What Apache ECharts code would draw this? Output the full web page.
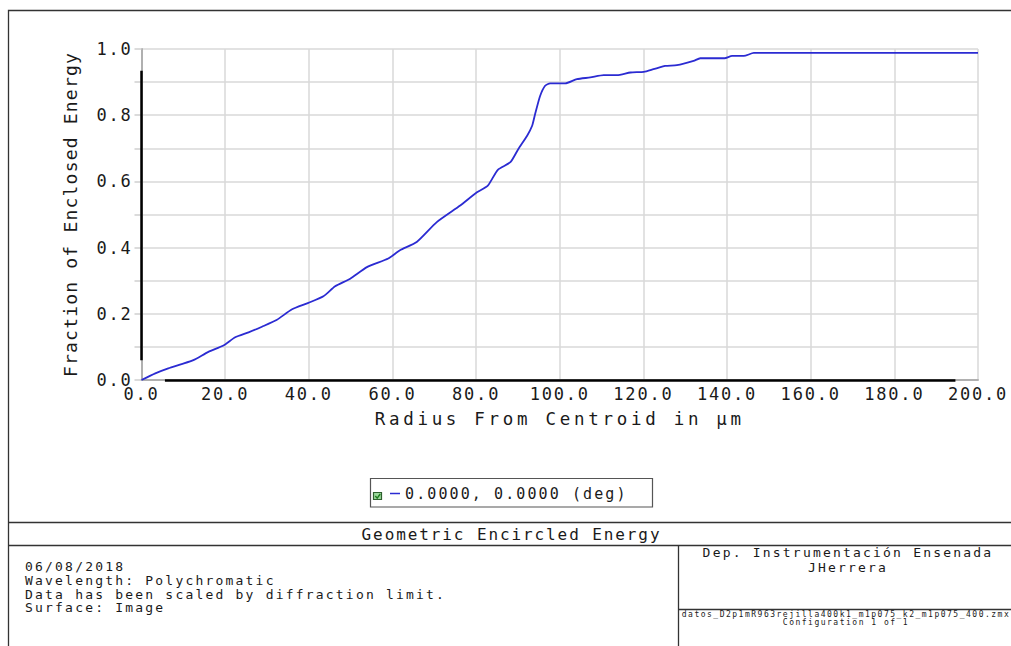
<!DOCTYPE html>
<html>
<head>
<meta charset="utf-8">
<title>Geometric Encircled Energy</title>
<script src="https://cdn.jsdelivr.net/npm/echarts@6/dist/echarts.min.js"></script>
<style>
  html, body { margin: 0; padding: 0; background: #fff; }
  #chart { width: 1011px; height: 646px; }
  /* monospaced report lettering: widen the pitch per text size */
  #chart text[style*="17px"]   { letter-spacing: 1.8px; }
  #chart text[style*="18px"]   { letter-spacing: 1.2px; }
  #chart text[style*="17.5px"] { letter-spacing: 3.7px; }
  #chart text[style*="15px"]   { letter-spacing: 2.1px; }
  #chart text[style*="16px"]   { letter-spacing: 1.9px; }
  #chart text[style*="13px"]   { letter-spacing: 2.2px; }
  #chart text[style*=" 8px"], #chart text[style*=":8px"] { letter-spacing: 1.5px; }
</style>
</head>
<body>
<div id="chart"></div>
<script>
// Encircled energy vs. radius from centroid (µm)
const radius = [0, 3.3, 6.4, 9.6, 12.4, 16, 19.6, 22.4, 25.6, 28.8, 32.3, 35.9, 39.9, 43.5, 46.3,
  49.9, 53.9, 59, 61.8, 65.8, 70.6, 76.2, 80.2, 82.8, 85.2, 88.2, 90.1, 92.2, 93.4, 94.1, 95.3,
  96.5, 97.7, 101.3, 104.1, 107.3, 110.5, 113.7, 116.9, 120.1, 122.4, 125.2, 128, 132, 133.6,
  139.4, 141.2, 144, 146.4, 200];
const fraction = [0, 0.02, 0.035, 0.048, 0.06, 0.085, 0.104, 0.129, 0.144, 0.161, 0.181, 0.213, 0.233, 0.253, 0.283,
  0.306, 0.341, 0.367, 0.392, 0.417, 0.477, 0.527, 0.567, 0.587, 0.635, 0.658, 0.698, 0.738, 0.768, 0.803, 0.858,
  0.889, 0.896, 0.896, 0.909, 0.914, 0.921, 0.921, 0.929, 0.931, 0.939, 0.949, 0.951, 0.964, 0.972,
  0.972, 0.979, 0.979, 0.988, 0.988];

const seriesName = '0.0000, 0.0000 (deg)';
const chartTitle = 'Geometric Encircled Energy';
const xAxisName = 'Radius From Centroid in µm';
const yAxisName = 'Fraction of Enclosed Energy';
const notesLeft = ['06/08/2018', 'Wavelength: Polychromatic', 'Data has been scaled by diffraction limit.', 'Surface: Image'];
const orgName = 'Dep. Instrumentación Ensenada';
const authorName = 'JHerrera';
const fileName = 'datos_D2p1mR963rejilla400k1_m1p075_k2_m1p075_400.zmx';
const configText = 'Configuration 1 of 1';

const MONO = 'DejaVu Sans Mono';
const INK = '#1a1a1a';
const FRAME = '#333';

const chart = echarts.init(document.getElementById('chart'), null, { renderer: 'svg' });

chart.setOption({
  animation: false,
  backgroundColor: '#fff',
  grid: { left: 141.5, right: 33, top: 49, bottom: 266, containLabel: false },
  xAxis: {
    type: 'value', min: 0, max: 200, interval: 20,
    name: xAxisName, nameLocation: 'middle', nameGap: 30,
    nameTextStyle: { fontFamily: MONO, fontSize: 17.5, color: INK },
    axisLine: { show: true, lineStyle: { color: '#b0b0b0', width: 2 } },
    axisTick: { show: false },
    axisLabel: { fontFamily: MONO, fontSize: 17, color: INK, margin: 5,
      formatter: v => v.toFixed(1) },
    splitLine: { show: true, lineStyle: { color: '#d9d9d9', width: 1.5 } }
  },
  yAxis: {
    type: 'value', min: 0, max: 1, interval: 0.1,
    name: yAxisName, nameLocation: 'middle', nameGap: 62,
    nameTextStyle: { fontFamily: MONO, fontSize: 18, color: INK },
    axisLine: { show: true, lineStyle: { color: '#b0b0b0', width: 2 } },
    axisTick: { show: true, length: 7, lineStyle: { color: '#cfcfcf', width: 1.5 } },
    axisLabel: { fontFamily: MONO, fontSize: 17, color: INK, margin: 9,
      formatter: v => (Math.round(v * 10) % 2 === 0 ? v.toFixed(1) : '') },
    splitLine: { show: true, lineStyle: { color: '#d9d9d9', width: 1.5 } }
  },
  legend: {
    show: true, left: 390, top: 486, padding: 0,
    icon: 'rect', itemWidth: 10, itemHeight: 1.5,
    textStyle: { fontFamily: MONO, fontSize: 15, color: INK },
    data: [seriesName], selectedMode: false
  },
  series: [{
    name: seriesName,
    type: 'line',
    data: radius.map((r, i) => [r, fraction[i]]),
    showSymbol: false,
    smooth: 0.2,
    clip: false,
    lineStyle: { color: '#2b2bd2', width: 1.8 },
    itemStyle: { color: '#2b2bd2' },
    emphasis: { disabled: true },
    markLine: {
      silent: true, symbol: 'none', animation: false,
      label: { show: false },
      lineStyle: { color: '#000', width: 2.5, type: 'solid' },
      emphasis: { disabled: true },
      data: [
        [{ coord: [0, 0.06] }, { coord: [0, 0.934] }],
        [{ coord: [5.6, 0] }, { coord: [194.6, 0] }]
      ]
    }
  }],
  graphic: [
    // outer frame and report panels
    { type: 'rect', silent: true, shape: { x: 8.5, y: 10.5, width: 1012, height: 650 },
      style: { fill: 'none', stroke: FRAME, lineWidth: 1.3 } },
    { type: 'line', silent: true, shape: { x1: 8.5, y1: 522.5, x2: 1011, y2: 522.5 },
      style: { stroke: FRAME, lineWidth: 1.3 } },
    { type: 'line', silent: true, shape: { x1: 8.5, y1: 545.5, x2: 1011, y2: 545.5 },
      style: { stroke: FRAME, lineWidth: 1.3 } },
    { type: 'line', silent: true, shape: { x1: 678.5, y1: 545.5, x2: 678.5, y2: 646 },
      style: { stroke: FRAME, lineWidth: 1.3 } },
    { type: 'line', silent: true, shape: { x1: 678.5, y1: 609.5, x2: 1011, y2: 609.5 },
      style: { stroke: FRAME, lineWidth: 1.3 } },
    // legend box and check mark
    { type: 'rect', silent: true, shape: { x: 370.5, y: 478.5, width: 282, height: 28.5 },
      style: { fill: 'none', stroke: '#555', lineWidth: 1.2 } },
    { type: 'rect', silent: true, shape: { x: 373.5, y: 492.5, width: 8, height: 7 },
      style: { fill: '#9bd89b', stroke: '#2d5f2d', lineWidth: 1.2 } },
    { type: 'polyline', silent: true, shape: { points: [[375.3, 496], [377.2, 498.2], [380.2, 494]] },
      style: { fill: 'none', stroke: '#1e7a1e', lineWidth: 1.4 } },
    // titles and notes
    { type: 'text', silent: true, style: { text: chartTitle, x: 511.5, y: 534, align: 'center',
      verticalAlign: 'middle', fontFamily: MONO, fontSize: 16, fill: INK } },
    { type: 'text', silent: true, style: { text: notesLeft.join('\n'), x: 25, y: 560, align: 'left',
      verticalAlign: 'top', lineHeight: 13.7, fontFamily: MONO, fontSize: 13, fill: INK } },
    { type: 'text', silent: true, style: { text: orgName, x: 848, y: 552.5, align: 'center',
      verticalAlign: 'middle', fontFamily: MONO, fontSize: 13, fill: INK } },
    { type: 'text', silent: true, style: { text: authorName, x: 848, y: 567, align: 'center',
      verticalAlign: 'middle', fontFamily: MONO, fontSize: 13, fill: INK } },
    { type: 'text', silent: true, style: { text: fileName, x: 846, y: 614, align: 'center',
      verticalAlign: 'middle', fontFamily: MONO, fontSize: 8, fill: INK } },
    { type: 'text', silent: true, style: { text: configText, x: 846, y: 622.5, align: 'center',
      verticalAlign: 'middle', fontFamily: MONO, fontSize: 8, fill: INK } }
  ]
});
</script>
</body>
</html>
